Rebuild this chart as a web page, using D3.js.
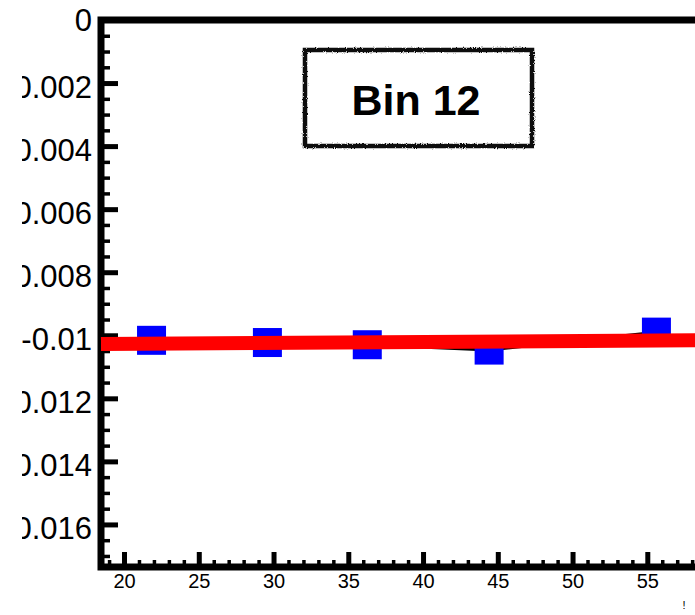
<!DOCTYPE html>
<html>
<head>
<meta charset="utf-8">
<script src="https://cdn.jsdelivr.net/npm/d3@7"></script>
<style>
  body { margin: 0; background: #fff; }
  svg { display: block; font-family: "Liberation Sans", Arial, Helvetica, sans-serif; }
</style>
</head>
<body>
<svg id="chart" width="695" height="615"></svg>
<script>
// points
const xVals = [21.84, 29.59, 36.27, 44.42, 55.61];
const yVals = [-0.01016, -0.01023, -0.0103, -0.01047, -0.0099];
// fit line end points
const fitX = [18.46, 61.2];
const fitY = [-0.01028, -0.01015];

const yTicks = [0, -0.002, -0.004, -0.006, -0.008, -0.01, -0.012, -0.014, -0.016];
const yTickLabels = ["0", "-0.002", "-0.004", "-0.006", "-0.008", "-0.01", "-0.012", "-0.014", "-0.016"];
const xTicks = [20, 25, 30, 35, 40, 45, 50, 55];
const xTickLabels = ["20", "25", "30", "35", "40", "45", "50", "55"];
const title = "Bin 12";

const svg = d3.select("#chart");
const margin = { left: 101, top: 20, right: 740, bottom: 567 };

const x = d3.scaleLinear().domain([18.46, 61.2]).range([margin.left, margin.right]);
const y = d3.scaleLinear().domain([-0.01735, 0]).range([margin.bottom, margin.top]);

// rough border for the title box
const defs = svg.append("defs");
const f = defs.append("filter").attr("id", "rough").attr("x", "-5%").attr("y", "-10%").attr("width", "110%").attr("height", "120%");
f.append("feTurbulence").attr("type", "fractalNoise").attr("baseFrequency", 0.9).attr("numOctaves", 2).attr("result", "noise");
f.append("feDisplacementMap").attr("in", "SourceGraphic").attr("in2", "noise").attr("scale", 3);
// labels are cut at the left edge of the pad
defs.append("clipPath").attr("id", "labelClip")
  .append("rect").attr("x", 22).attr("y", 0).attr("width", 700).attr("height", 615);

// minor ticks
const yMinor = d3.range(0, 35).map(i => -i * 0.0005).filter(v => v >= -0.01735);
const xMinor = d3.range(19, 62);

const yMinorG = svg.append("g").attr("transform", `translate(${margin.left},0)`)
  .call(d3.axisLeft(y).tickValues(yMinor).tickSize(-9).tickFormat(""));
const xMinorG = svg.append("g").attr("transform", `translate(0,${margin.bottom})`)
  .call(d3.axisBottom(x).tickValues(xMinor).tickSize(-7).tickFormat(""));
[yMinorG, xMinorG].forEach(g => {
  g.select(".domain").remove();
  g.selectAll("line").attr("stroke", "#000").attr("stroke-width", 3.5);
});

// major ticks + labels
const yAxisG = svg.append("g").attr("clip-path", "url(#labelClip)")
  .append("g").attr("transform", `translate(${margin.left},0)`)
  .call(d3.axisLeft(y).tickValues(yTicks).tickSize(-17).tickPadding(9)
    .tickFormat((d, i) => yTickLabels[i]));
yAxisG.selectAll("text").attr("font-size", 31).attr("dy", (d, i) => i === 0 ? "0.34em" : "0.45em")
  .attr("font-family", "Liberation Sans, Arial, sans-serif").attr("fill", "#000");

const xAxisG = svg.append("g").attr("transform", `translate(0,${margin.bottom})`)
  .call(d3.axisBottom(x).tickValues(xTicks).tickSize(-15).tickPadding(7)
    .tickFormat((d, i) => xTickLabels[i]));
xAxisG.selectAll("text").attr("font-size", 20).attr("dy", "0.71em")
  .attr("font-family", "Liberation Sans, Arial, sans-serif").attr("fill", "#000");

[yAxisG, xAxisG].forEach(g => {
  g.select(".domain").remove();
  g.selectAll("line").attr("stroke", "#000").attr("stroke-width", 5);
});

// frame
svg.append("rect")
  .attr("x", margin.left).attr("y", margin.top)
  .attr("width", margin.right - margin.left).attr("height", margin.bottom - margin.top)
  .attr("fill", "none").attr("stroke", "#000").attr("stroke-width", 7);

const pts = xVals.map((v, i) => ({ x: v, y: yVals[i] }));

// connecting line
svg.append("path")
  .datum(pts)
  .attr("fill", "none").attr("stroke", "#000").attr("stroke-width", 3)
  .attr("d", d3.line().x(d => x(d.x)).y(d => y(d.y)));

// markers
const ms = 29;
svg.selectAll("rect.marker").data(pts).enter().append("rect")
  .attr("class", "marker")
  .attr("x", d => x(d.x) - ms / 2)
  .attr("y", d => y(d.y) - ms / 2)
  .attr("width", ms).attr("height", ms)
  .attr("fill", "#0000ff");

// fit
svg.append("path")
  .datum(fitX.map((v, i) => ({ x: v, y: fitY[i] })))
  .attr("fill", "none").attr("stroke", "#ff0000").attr("stroke-width", 14)
  .attr("d", d3.line().x(d => x(d.x)).y(d => y(d.y)));

// title box
svg.append("rect")
  .attr("x", 305).attr("y", 50).attr("width", 227).attr("height", 96)
  .attr("fill", "#fff").attr("stroke", "#111").attr("stroke-width", 4.5)
  .attr("filter", "url(#rough)");
svg.append("text")
  .attr("x", 416).attr("y", 115)
  .attr("text-anchor", "middle")
  .attr("font-size", 43).attr("font-weight", "bold")
  .text(title);

// remnant of a text cut off at the bottom right
svg.append("text")
  .attr("x", 684).attr("y", 609)
  .attr("text-anchor", "middle").attr("font-size", 11)
  .text("!");
</script>
</body>
</html>
